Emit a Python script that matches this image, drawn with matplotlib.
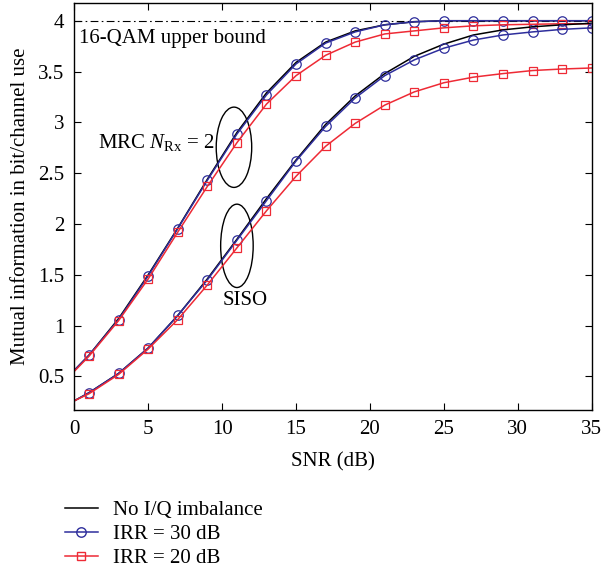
import matplotlib
matplotlib.use('Agg')
from matplotlib import pyplot as plt
from matplotlib.patches import Ellipse
from matplotlib.lines import Line2D

plt.rcParams['font.family'] = ['Liberation Serif', 'DejaVu Serif']
plt.rcParams['mathtext.fontset'] = 'custom'
plt.rcParams['mathtext.rm'] = 'Liberation Serif'
plt.rcParams['mathtext.it'] = 'Liberation Serif:italic'

# SNR grid (dB): curve sampled at 0 and every odd value
snr = [0, 1, 3, 5, 7, 9, 11, 13, 15, 17, 19, 21, 23, 25, 27, 29, 31, 33, 35]

# MRC, N_Rx = 2
mrc_ideal = [0.56, 0.71, 1.07, 1.50, 1.96, 2.44, 2.90, 3.29, 3.59, 3.79, 3.90, 3.96, 3.99, 4.0, 4.0, 4.0, 4.0, 4.0, 4.0]
mrc_irr30 = [0.56, 0.71, 1.06, 1.49, 1.955, 2.43, 2.885, 3.27, 3.575, 3.78, 3.89, 3.96, 3.99, 4.0, 4.0, 4.0, 4.0, 4.0, 4.0]
mrc_irr20 = [0.55, 0.70, 1.05, 1.46, 1.92, 2.37, 2.80, 3.18, 3.46, 3.66, 3.79, 3.87, 3.90, 3.93, 3.95, 3.96, 3.965, 3.97, 3.97]

# SISO
siso_ideal = [0.26, 0.34, 0.53, 0.78, 1.10, 1.46, 1.85, 2.25, 2.63, 2.98, 3.26, 3.48, 3.65, 3.77, 3.86, 3.91, 3.94, 3.96, 3.975]
siso_irr30 = [0.26, 0.34, 0.53, 0.78, 1.10, 1.45, 1.84, 2.23, 2.62, 2.96, 3.24, 3.46, 3.615, 3.73, 3.81, 3.86, 3.89, 3.915, 3.93]
siso_irr20 = [0.26, 0.33, 0.52, 0.77, 1.06, 1.40, 1.765, 2.13, 2.47, 2.765, 2.99, 3.17, 3.30, 3.39, 3.445, 3.48, 3.51, 3.525, 3.535]

x_ticks = [0, 5, 10, 15, 20, 25, 30, 35]
y_ticks = [0.5, 1, 1.5, 2, 2.5, 3, 3.5, 4]
upper_bound = 4

BLUE = '#2e2e9c'
RED = '#ee2a35'
FS = 15

fig = plt.figure(figsize=(6.02, 5.75), dpi=100)
ax = fig.add_axes([0.1234, 0.287, 0.8596, 0.707])

ax.plot([0, 35], [upper_bound, upper_bound], color='black', linewidth=0.8,
        linestyle=(0, (7, 3, 1.5, 3)))

for ideal, irr30, irr20 in [(mrc_ideal, mrc_irr30, mrc_irr20), (siso_ideal, siso_irr30, siso_irr20)]:
    ax.plot(snr, ideal, color='black', linewidth=1.1)
    ax.plot(snr, irr30, color=BLUE, linewidth=1.1, marker='o', markersize=6.8,
            markerfacecolor='none', markeredgewidth=0.9, markevery=list(range(1, len(snr))))
    ax.plot(snr, irr20, color=RED, linewidth=1.1, marker='s', markersize=5.2,
            markerfacecolor='none', markeredgewidth=0.9, markevery=list(range(1, len(snr))))

ax.add_patch(Ellipse((10.8, 2.755), 2.4, 0.79, fill=False, edgecolor='black', linewidth=1.0))
ax.add_patch(Ellipse((11.0, 1.785), 2.2, 0.82, fill=False, edgecolor='black', linewidth=1.0))

ax.text(0.35, 3.83, '16-QAM upper bound', fontsize=FS, va='center', ha='left')
ax.text(1.6, 2.8, r'MRC $N_{\mathrm{Rx}}$ = 2', fontsize=FS, va='center', ha='left')
ax.text(11.55, 1.25, 'SISO', fontsize=FS, va='center', ha='center')

ax.set_xlim(0, 35)
ax.set_ylim(0.17, 4.17)
ax.set_xticks(x_ticks)
ax.set_yticks(y_ticks)
ax.set_yticklabels(['0.5', '1', '1.5', '2', '2.5', '3', '3.5', '4'])
ax.tick_params(direction='in', top=True, right=True, labelsize=FS, length=5, width=0.8)
ax.tick_params(axis='x', pad=7)
ax.tick_params(axis='y', pad=7)
for s in ax.spines.values():
    s.set_linewidth(1.0)
ax.set_xlabel('SNR (dB)', fontsize=FS, labelpad=10)
ax.set_ylabel('Mutual information in bit/channel use', fontsize=FS, labelpad=6)

handles = [
    Line2D([], [], color='black', linewidth=1.1),
    Line2D([], [], color=BLUE, linewidth=1.1, marker='o', markersize=6.8, markerfacecolor='none'),
    Line2D([], [], color=RED, linewidth=1.1, marker='s', markersize=5.2, markerfacecolor='none'),
]
labels = ['No I/Q imbalance', 'IRR = 30 dB', 'IRR = 20 dB']
fig.legend(handles, labels, loc='upper left', bbox_to_anchor=(0.09, 0.147), frameon=False,
           fontsize=FS, handlelength=1.6, labelspacing=0.2, handletextpad=0.7, borderpad=0)

plt.savefig('out.png', dpi=100)
